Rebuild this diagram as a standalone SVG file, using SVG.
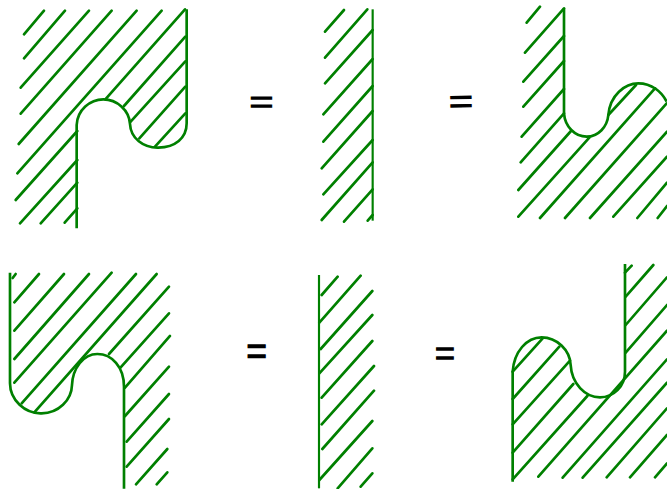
<svg xmlns="http://www.w3.org/2000/svg" width="667" height="489" viewBox="0 0 667 489">
<style>
.h{fill:none;stroke:#008000;stroke-width:8;stroke-linecap:round}
.b{fill:none;stroke:#008000;stroke-width:8;stroke-linecap:butt}
.v{fill:none;stroke:#008000;stroke-width:6.5}
.e{font-family:"Liberation Serif",serif;font-size:40px;fill:#000;stroke:#000;stroke-width:1.2;text-anchor:middle}
</style>
<rect width="667" height="489" fill="#fff"/>
<g id="panel-top-left" transform="scale(.33333)">
<path class="h" d="M72 103L132 32M72 175L195 32M62 263L267 32M62 341L335 32M56 432L410 32M52 520L485 32M47 600L232 393M60 670L232 480M122 670L232 548M194 668L232 625M316 298L555 28M372 318L556 110M392 365L556 184M418 415L556 260M465 440L556 340"/>
<path class="b" d="M230 685L230 375C232 330 270 298 310 298C350 298 388 330 390 372C392 415 430 444 475 443C525 442 560 415 560 370L560 28"/>
</g>
<g id="panel-top-middle" transform="translate(230 0) scale(.33333)">
<path class="h" d="M285 95L342 30M285 173L412 28M285 250L428 90M280 343L428 177M280 425L428 258M275 505L428 333M280 583L428 420M275 660L428 487M342 665L428 568M413 662L428 645"/>
<path class="v" d="M428 28L428 662"/>
</g>
<g id="panel-top-right" transform="translate(500 0) scale(.33333)">
<path class="h" d="M80 68L120 20M75 158L192 25M70 245L192 108M70 320L192 183M65 410L192 267M62 487L192 340M55 570L213 393M55 650L268 413M325 345L408 255M120 654L465 265M195 654L500 310M270 654L501 395M340 650L501 470M412 654L501 548M473 654L501 618"/>
<path class="b" d="M192 25L192 340C195 380 225 410 260 410C295 410 322 380 325 345C330 285 375 250 415 250C455 250 485 275 500 305"/>
</g>
<g id="panel-bottom-left" transform="translate(0 250) scale(.33333)">
<path class="h" d="M38 84L47 72M43 157L117 72M43 242L192 72M43 327L267 72M43 398L335 68M65 460L408 72M103 487L470 72M327 312L507 110M362 352L507 190M375 413L510 258M375 498L507 350M380 575L507 432M380 650L507 507M408 703L502 597M470 703L502 667"/>
<path class="b" d="M30 68L30 400C30 450 75 492 125 490C175 490 215 450 216 405C218 355 250 312 292 312C335 312 372 350 372 410L372 716"/>
</g>
<g id="panel-bottom-middle" transform="translate(230 260) scale(.33333)">
<path class="h" d="M275 105L323 50M268 188L392 47M272 267L427 93M268 340L427 165M275 413L427 243M275 493L432 318M277 567L432 392M268 660L427 483M323 685L427 565M392 680L427 640"/>
<path class="v" d="M267 45L267 685"/>
</g>
<g id="panel-bottom-right" transform="translate(490 250) scale(.33333)">
<path class="h" d="M405 68L425 47M407 140L490 45M407 225L531 82M407 308L531 165M68 365L158 265M68 447L208 290M68 523L240 332M68 608L250 402M68 688L292 438M145 680L531 242M218 683L531 328M278 683L531 398M350 682L531 475M420 682L531 555M495 682L531 640"/>
<path class="b" d="M68 695L68 365C72 305 110 262 155 262C200 262 240 300 242 345C245 400 285 442 330 442C370 442 405 410 405 365L405 42"/>
</g>
<g id="equals">
<text class="e" transform="translate(261.5 101.7) scale(1.08 1.02)" y="13.6">=</text>
<text class="e" transform="translate(461 101.3) rotate(-1) scale(1.08 1.05)" y="13.6">=</text>
<text class="e" transform="translate(256.5 350.7) scale(.92 1.25)" y="13.6">=</text>
<text class="e" transform="translate(445 353) scale(.9 1.05)" y="13.6">=</text>
</g>
</svg>
